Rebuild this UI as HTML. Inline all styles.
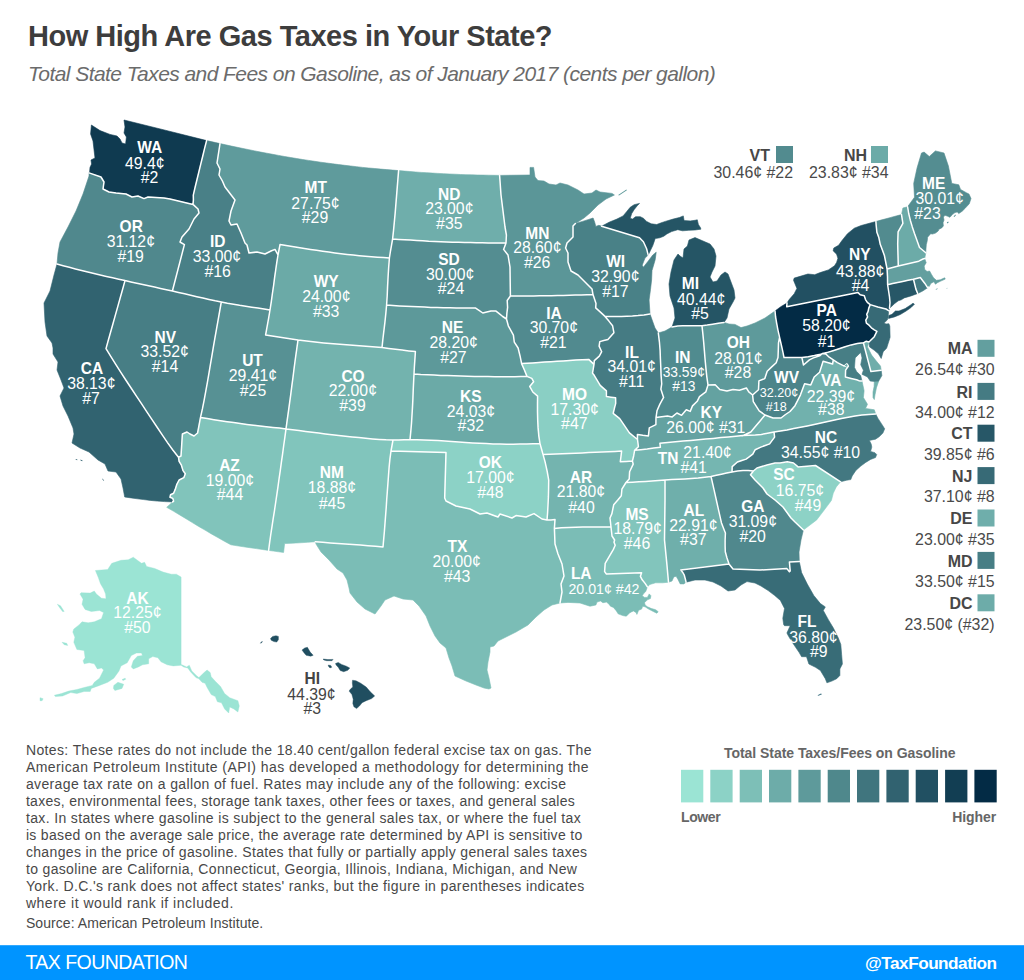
<!DOCTYPE html>
<html><head><meta charset="utf-8"><title>How High Are Gas Taxes in Your State?</title>
<style>
html,body{margin:0;padding:0;background:#fff;}
body{width:1024px;height:980px;position:relative;overflow:hidden;font-family:"Liberation Sans",sans-serif;}
svg{position:absolute;left:0;top:0;}
svg text{font-family:"Liberation Sans",sans-serif;}
#map path{stroke-linejoin:round;}
</style></head><body>
<svg width="1024" height="980" viewBox="0 0 1024 980">
<g id="map">
<path d="M89.0,172.9L89.6,172.0L90.0,167.4L91.6,164.0L91.0,160.0L95.0,158.0L94.4,153.0L93.0,141.0L90.6,134.0L91.4,125.0L100.0,130.6L110.0,134.4L117.0,136.0L120.0,139.0L122.0,143.0L125.6,144.0L126.4,137.0L124.0,133.0L125.0,127.0L124.0,120.0L165.2,130.2L206.6,140.6L204.6,148.4L202.7,156.2L200.8,163.9L198.9,171.7L197.0,179.5L195.1,187.3L193.3,195.1L193.4,200.0L193.0,204.4L170.0,199.0L164.0,198.0L148.0,197.0L144.0,198.6L138.0,196.0L132.0,197.0L126.0,194.0L116.0,193.0L109.0,192.0L103.0,189.0L104.0,182.0L101.0,177.0Z" fill="#0f3a50" stroke="#0f3a50" stroke-width="0.6"/>
<path d="M89.0,172.9L101.0,177.0L104.0,182.0L103.0,189.0L109.0,192.0L116.0,193.0L126.0,194.0L132.0,197.0L138.0,196.0L144.0,198.6L148.0,197.0L164.0,198.0L170.0,199.0L193.0,204.4L198.0,209.0L199.0,213.0L194.0,219.0L189.0,229.0L182.0,237.0L180.0,242.0L184.4,244.6L172.4,291.0L166.4,289.7L160.5,288.4L154.5,287.1L148.6,285.8L142.7,284.5L136.8,283.2L130.9,281.9L125.0,280.6L118.8,279.2L112.6,277.8L106.4,276.4L100.2,275.0L94.0,273.5L87.8,272.0L81.6,270.5L75.4,268.9L69.3,267.3L63.1,265.7L57.0,264.0L58.0,253.0L60.0,242.0L68.0,227.0L76.0,211.0L83.0,194.0L89.0,176.0Z" fill="#50888d" stroke="#50888d" stroke-width="0.6"/>
<path d="M57.0,264.0L63.1,265.7L69.3,267.3L75.4,268.9L81.6,270.5L87.8,272.0L94.0,273.5L100.2,275.0L106.4,276.4L112.6,277.8L118.8,279.2L125.0,280.6L122.7,289.0L120.3,297.5L117.9,306.1L115.5,314.6L113.1,323.2L110.7,331.7L108.3,340.2L106.0,348.6L110.9,356.6L115.9,364.6L121.0,372.6L126.1,380.5L131.4,388.5L136.6,396.4L141.8,404.2L147.0,412.1L152.2,419.8L157.3,427.5L162.4,435.1L167.5,442.6L172.8,450.0L178.5,457.2L179.1,461.3L181.4,465.2L183.0,470.6L185.3,473.8L183.8,477.7L179.1,480.0L176.7,484.7L175.2,489.4L173.6,493.3L170.5,494.8L170.0,497.2L172.8,498.4L173.6,501.1L172.7,501.9L164.7,501.6L157.3,501.1L150.4,500.4L143.8,499.6L137.4,498.8L131.1,497.9L124.7,497.0L123.0,488.0L121.0,479.0L116.0,472.0L108.0,471.0L105.0,464.0L98.0,460.0L89.0,452.0L80.0,448.0L72.0,443.0L74.0,434.0L73.0,428.0L68.0,416.0L63.0,406.0L60.0,396.0L64.0,388.0L61.0,380.0L57.0,370.0L58.0,362.0L53.0,354.0L53.0,348.0L52.0,343.0L47.0,336.0L45.0,322.0L44.0,303.0L50.0,291.0L54.0,275.0Z" fill="#316370" stroke="#316370" stroke-width="0.6"/>
<path d="M125.0,280.6L130.9,281.9L136.8,283.2L142.7,284.5L148.6,285.8L154.5,287.1L160.5,288.4L166.4,289.7L172.4,291.0L178.5,292.4L184.6,293.8L190.7,295.3L196.8,296.7L202.9,298.1L209.0,299.4L215.2,300.8L221.3,302.0L219.7,311.0L218.1,320.1L216.5,329.2L214.9,338.2L213.3,347.3L211.8,356.3L210.3,365.2L208.8,374.1L207.3,382.9L205.7,391.7L204.1,400.4L202.4,408.9L200.5,417.4L197.6,433.0L194.0,436.0L190.0,434.0L187.0,432.0L182.4,434.0L181.0,456.0L178.5,457.2L172.8,450.0L167.5,442.6L162.4,435.1L157.3,427.5L152.2,419.8L147.0,412.1L141.8,404.2L136.6,396.4L131.4,388.5L126.1,380.5L121.0,372.6L115.9,364.6L110.9,356.6L106.0,348.6L108.3,340.2L110.7,331.7L113.1,323.2L115.5,314.6L117.9,306.1L120.3,297.5L122.7,289.0Z" fill="#477e85" stroke="#477e85" stroke-width="0.6"/>
<path d="M193.0,204.4L193.4,200.0L193.3,195.1L195.1,187.3L197.0,179.5L198.9,171.7L200.8,163.9L202.7,156.2L204.6,148.4L206.6,140.6L211.1,141.6L215.5,142.6L220.0,143.6L217.0,163.0L220.0,169.0L219.0,175.0L222.4,181.0L225.0,187.0L235.0,200.0L231.0,211.0L229.0,221.0L231.0,225.0L237.0,224.0L241.0,233.0L245.0,243.0L247.0,245.0L249.0,253.0L257.0,252.0L265.0,254.0L271.0,251.0L275.0,249.4L278.0,255.0L276.8,262.4L275.7,270.0L274.6,277.7L273.6,285.5L272.4,293.5L271.3,301.6L270.0,310.0L264.0,309.0L257.9,308.1L251.8,307.2L245.7,306.2L239.6,305.3L233.5,304.2L227.4,303.2L221.3,302.0L215.2,300.8L209.0,299.4L202.9,298.1L196.8,296.7L190.7,295.3L184.6,293.8L178.5,292.4L172.4,291.0L184.4,244.6L180.0,242.0L182.0,237.0L189.0,229.0L194.0,219.0L199.0,213.0L198.0,209.0Z" fill="#498087" stroke="#498087" stroke-width="0.6"/>
<path d="M220.0,143.6L225.6,144.8L231.4,146.1L237.2,147.3L243.0,148.5L248.9,149.7L254.8,150.9L260.7,152.1L266.7,153.2L272.6,154.3L278.6,155.4L284.6,156.5L290.6,157.5L296.6,158.5L302.6,159.5L308.6,160.4L314.6,161.3L320.6,162.2L326.7,163.0L332.7,163.8L338.7,164.6L344.7,165.3L350.7,166.0L356.7,166.7L362.7,167.4L368.7,168.0L374.7,168.5L380.7,169.1L386.7,169.6L392.6,170.1L398.6,170.6L397.9,179.2L397.2,187.9L396.5,196.6L395.8,205.2L395.1,213.9L394.3,222.4L393.5,230.8L392.6,239.0L391.5,245.3L390.4,251.5L389.4,258.0L383.4,257.6L377.4,257.2L371.4,256.8L365.3,256.3L359.3,255.7L353.2,255.1L347.1,254.4L341.0,253.7L334.9,252.9L328.8,252.1L322.7,251.2L316.6,250.3L310.5,249.4L304.4,248.5L298.3,247.5L292.2,246.6L286.1,245.6L280.0,244.6L279.0,249.8L278.0,255.0L275.0,249.4L271.0,251.0L265.0,254.0L257.0,252.0L249.0,253.0L247.0,245.0L245.0,243.0L241.0,233.0L237.0,224.0L231.0,225.0L229.0,221.0L231.0,211.0L235.0,200.0L225.0,187.0L222.4,181.0L219.0,175.0L220.0,169.0L217.0,163.0Z" fill="#5f9b9c" stroke="#5f9b9c" stroke-width="0.6"/>
<path d="M278.0,255.0L279.0,249.8L280.0,244.6L286.1,245.6L292.2,246.6L298.3,247.5L304.4,248.5L310.5,249.4L316.6,250.3L322.7,251.2L328.8,252.1L334.9,252.9L341.0,253.7L347.1,254.4L353.2,255.1L359.3,255.7L365.3,256.3L371.4,256.8L377.4,257.2L383.4,257.6L389.4,258.0L388.7,267.0L388.1,276.5L387.6,286.1L387.2,295.7L386.6,305.0L385.8,313.8L384.9,322.3L383.9,330.6L382.9,339.0L382.0,347.6L375.6,347.0L369.1,346.6L362.6,346.1L356.1,345.6L349.6,345.1L343.1,344.6L336.6,344.1L330.1,343.5L323.7,342.9L317.2,342.2L310.8,341.5L304.4,340.8L298.0,340.0L291.5,339.1L285.0,338.1L278.5,337.1L272.1,336.1L265.6,335.0L267.1,326.7L268.6,318.3L270.0,310.0L271.3,301.6L272.4,293.5L273.6,285.5L274.6,277.7L275.7,270.0L276.8,262.4Z" fill="#6baaa7" stroke="#6baaa7" stroke-width="0.6"/>
<path d="M221.3,302.0L227.4,303.2L233.5,304.2L239.6,305.3L245.7,306.2L251.8,307.2L257.9,308.1L264.0,309.0L270.0,310.0L268.6,318.3L267.1,326.7L265.6,335.0L272.1,336.1L278.5,337.1L285.0,338.1L291.5,339.1L298.0,340.0L296.7,349.3L295.4,358.5L294.2,367.5L293.1,376.5L291.9,385.3L290.8,394.1L289.6,402.9L288.4,411.6L287.2,420.2L286.0,428.9L279.4,428.1L272.9,427.4L266.3,426.7L259.8,425.9L253.3,425.2L246.8,424.4L240.2,423.5L233.7,422.6L227.1,421.7L220.5,420.7L213.9,419.7L207.3,418.6L200.5,417.4L202.4,408.9L204.1,400.4L205.7,391.7L207.3,382.9L208.8,374.1L210.3,365.2L211.8,356.3L213.3,347.3L214.9,338.2L216.5,329.2L218.1,320.1L219.7,311.0Z" fill="#579194" stroke="#579194" stroke-width="0.6"/>
<path d="M298.0,340.0L304.4,340.8L310.8,341.5L317.2,342.2L323.7,342.9L330.1,343.5L336.6,344.1L343.1,344.6L349.6,345.1L356.1,345.6L362.6,346.1L369.1,346.6L375.6,347.0L382.0,347.6L388.7,348.4L395.4,349.3L402.1,350.1L408.8,350.9L415.4,351.6L414.9,359.1L414.4,366.5L414.0,374.0L413.6,382.3L413.2,390.5L412.9,398.7L412.5,406.9L412.0,415.0L411.5,423.2L410.8,431.4L410.0,439.6L404.3,439.7L398.7,439.9L393.0,440.0L386.1,439.8L379.2,439.4L372.4,438.9L365.6,438.3L358.8,437.6L352.1,436.9L345.4,436.2L338.7,435.5L332.0,434.7L325.3,433.9L318.7,433.1L312.1,432.2L305.6,431.4L299.0,430.6L292.5,429.7L286.0,428.9L287.2,420.2L288.4,411.6L289.6,402.9L290.8,394.1L291.9,385.3L293.1,376.5L294.2,367.5L295.4,358.5L296.7,349.3Z" fill="#73b3ae" stroke="#73b3ae" stroke-width="0.6"/>
<path d="M200.5,417.4L207.3,418.6L213.9,419.7L220.5,420.7L227.1,421.7L233.7,422.6L240.2,423.5L246.8,424.4L253.3,425.2L259.8,425.9L266.3,426.7L272.9,427.4L279.4,428.1L286.0,428.9L284.9,437.2L283.7,445.5L282.6,453.8L281.4,462.1L280.3,470.3L279.1,478.5L278.0,486.7L276.8,494.9L275.6,503.0L274.4,511.1L273.1,519.2L271.9,527.2L270.7,535.0L269.6,542.8L268.6,550.4L262.4,549.5L256.2,548.6L249.9,547.7L243.6,546.8L237.2,545.8L230.9,544.8L224.3,541.2L217.8,537.5L211.4,533.9L205.0,530.1L198.6,526.4L192.3,522.6L186.0,518.7L179.7,514.9L173.3,511.1L166.7,507.3L172.7,501.9L173.6,501.1L172.8,498.4L170.0,497.2L170.5,494.8L173.6,493.3L175.2,489.4L176.7,484.7L179.1,480.0L183.8,477.7L185.3,473.8L183.0,470.6L181.4,465.2L179.1,461.3L178.5,457.2L181.0,456.0L182.4,434.0L187.0,432.0L190.0,434.0L194.0,436.0L197.6,433.0Z" fill="#81c4bb" stroke="#81c4bb" stroke-width="0.6"/>
<path d="M286.0,428.9L292.5,429.7L299.0,430.6L305.6,431.4L312.1,432.2L318.7,433.1L325.3,433.9L332.0,434.7L338.7,435.5L345.4,436.2L352.1,436.9L358.8,437.6L365.6,438.3L372.4,438.9L379.2,439.4L386.1,439.8L393.0,440.0L392.0,445.5L391.0,451.0L389.9,459.2L389.1,467.4L388.5,475.5L387.9,483.7L387.3,491.7L386.7,499.7L386.2,507.7L385.6,515.5L385.0,523.4L384.4,531.2L383.7,539.1L383.0,547.0L375.5,546.3L367.9,545.7L360.4,545.1L352.8,544.6L345.3,544.0L337.8,543.5L330.3,542.9L322.8,542.3L315.3,541.7L307.5,542.3L299.8,542.8L292.1,543.2L284.6,543.6L284.1,548.0L283.6,552.4L278.6,551.8L273.6,551.1L268.6,550.4L269.6,542.8L270.7,535.0L271.9,527.2L273.1,519.2L274.4,511.1L275.6,503.0L276.8,494.9L278.0,486.7L279.1,478.5L280.3,470.3L281.4,462.1L282.6,453.8L283.7,445.5L284.9,437.2Z" fill="#81c5bc" stroke="#81c5bc" stroke-width="0.6"/>
<path d="M315.3,541.7L316.0,544.0L321.0,552.0L329.0,560.0L337.0,569.0L343.0,573.0L347.0,580.0L349.0,588.0L350.0,593.0L357.0,602.0L365.0,609.0L375.0,614.0L381.0,606.0L385.0,600.0L394.0,596.0L403.0,599.0L413.0,600.0L419.0,606.0L426.0,616.0L430.0,626.0L435.0,636.0L440.0,643.0L446.0,648.0L449.0,658.0L452.0,666.0L455.0,676.0L466.0,681.0L476.0,685.0L484.0,688.0L489.0,689.0L491.0,688.0L489.0,678.0L487.0,670.0L488.0,662.0L490.0,652.0L490.0,647.0L494.0,646.0L498.0,641.0L506.0,637.0L516.0,632.0L528.0,625.0L536.0,617.0L544.0,610.0L552.0,605.0L560.0,603.0L562.0,592.0L561.0,584.0L564.0,576.0L562.0,564.0L558.0,554.0L555.0,544.0L554.4,528.4L554.7,524.0L555.0,519.6L551.0,519.9L547.0,520.0L542.0,519.0L534.0,513.6L526.0,517.0L516.0,515.6L512.0,518.0L500.0,514.0L498.0,517.0L487.0,513.0L480.0,514.0L470.0,509.0L456.0,506.0L446.0,501.0L444.7,498.0L446.0,452.4L391.0,451.0L389.9,459.2L389.1,467.4L388.5,475.5L387.9,483.7L387.3,491.7L386.7,499.7L386.2,507.7L385.6,515.5L385.0,523.4L384.4,531.2L383.7,539.1L383.0,547.0L375.5,546.3L367.9,545.7L360.4,545.1L352.8,544.6L345.3,544.0L337.8,543.5L330.3,542.9L322.8,542.3Z" fill="#7bbdb6" stroke="#7bbdb6" stroke-width="0.6"/>
<path d="M393.0,440.0L398.7,439.9L404.3,439.7L410.0,439.6L417.0,439.7L423.9,439.9L430.9,440.2L437.9,440.6L444.8,441.0L451.8,441.4L458.7,441.9L465.6,442.4L472.5,442.9L479.4,443.3L486.2,443.6L493.0,443.9L499.8,444.1L506.6,444.2L513.3,444.2L520.0,444.1L526.7,444.0L533.4,443.8L540.0,443.6L541.5,449.0L543.0,454.4L545.3,462.8L547.2,471.5L548.7,480.2L548.6,488.6L548.4,496.9L548.0,505.0L547.6,512.8L547.0,520.0L542.0,519.0L534.0,513.6L526.0,517.0L516.0,515.6L512.0,518.0L500.0,514.0L498.0,517.0L487.0,513.0L480.0,514.0L470.0,509.0L456.0,506.0L446.0,501.0L444.7,498.0L446.0,452.4L391.0,451.0L392.0,445.5Z" fill="#8cd2c6" stroke="#8cd2c6" stroke-width="0.6"/>
<path d="M414.0,374.0L420.7,374.5L427.4,374.8L434.1,375.1L440.8,375.4L447.5,375.6L454.2,375.8L460.9,376.0L467.6,376.2L474.4,376.4L481.1,376.5L487.9,376.6L494.7,376.8L501.5,376.8L508.2,376.8L514.7,376.8L520.9,376.6L527.0,376.4L531.8,378.4L533.6,381.7L529.7,386.4L532.8,392.0L537.6,396.1L537.5,404.1L537.5,412.0L537.7,420.0L538.1,427.9L538.8,435.8L540.0,443.6L533.4,443.8L526.7,444.0L520.0,444.1L513.3,444.2L506.6,444.2L499.8,444.1L493.0,443.9L486.2,443.6L479.4,443.3L472.5,442.9L465.6,442.4L458.7,441.9L451.8,441.4L444.8,441.0L437.9,440.6L430.9,440.2L423.9,439.9L417.0,439.7L410.0,439.6L410.8,431.4L411.5,423.2L412.0,415.0L412.5,406.9L412.9,398.7L413.2,390.5L413.6,382.3Z" fill="#6baaa7" stroke="#6baaa7" stroke-width="0.6"/>
<path d="M386.6,305.0L393.0,305.5L399.3,305.9L405.6,306.2L411.9,306.5L418.2,306.8L424.5,307.1L430.9,307.4L437.2,307.6L443.5,307.7L449.9,307.8L456.2,307.9L462.5,307.9L468.9,307.9L475.3,307.9L479.0,310.4L482.8,313.0L486.8,312.0L490.9,311.0L495.7,310.9L499.2,313.7L502.7,316.5L506.5,319.0L508.3,325.8L510.8,330.4L513.4,335.1L514.3,342.2L518.1,348.0L520.1,356.2L521.6,363.6L524.3,369.8L527.0,376.4L520.9,376.6L514.7,376.8L508.2,376.8L501.5,376.8L494.7,376.8L487.9,376.6L481.1,376.5L474.4,376.4L467.6,376.2L460.9,376.0L454.2,375.8L447.5,375.6L440.8,375.4L434.1,375.1L427.4,374.8L420.7,374.5L414.0,374.0L414.4,366.5L414.9,359.1L415.4,351.6L408.8,350.9L402.1,350.1L395.4,349.3L388.7,348.4L382.0,347.6L382.9,339.0L383.9,330.6L384.9,322.3L385.8,313.8Z" fill="#5d999a" stroke="#5d999a" stroke-width="0.6"/>
<path d="M392.6,239.0L398.6,239.4L404.6,239.8L410.7,240.1L416.7,240.5L422.7,240.8L428.7,241.2L434.7,241.4L440.7,241.7L446.7,242.0L452.6,242.2L458.6,242.3L464.6,242.5L470.5,242.6L476.4,242.8L482.3,242.8L488.2,242.9L494.1,243.0L500.0,243.0L506.0,243.0L503.6,249.4L508.0,255.0L510.0,267.0L510.4,296.0L507.2,300.5L507.6,307.3L506.9,313.1L506.5,319.0L502.7,316.5L499.2,313.7L495.7,310.9L490.9,311.0L486.8,312.0L482.8,313.0L479.0,310.4L475.3,307.9L468.9,307.9L462.5,307.9L456.2,307.9L449.9,307.8L443.5,307.7L437.2,307.6L430.9,307.4L424.5,307.1L418.2,306.8L411.9,306.5L405.6,306.2L399.3,305.9L393.0,305.5L386.6,305.0L387.2,295.7L387.6,286.1L388.1,276.5L388.7,267.0L389.4,258.0L390.4,251.5L391.5,245.3Z" fill="#548d91" stroke="#548d91" stroke-width="0.6"/>
<path d="M398.6,170.6L404.3,171.1L409.9,171.5L415.5,172.0L421.2,172.4L426.8,172.7L432.4,173.1L438.0,173.4L443.6,173.7L449.2,174.0L454.8,174.2L460.4,174.5L466.0,174.7L471.6,174.8L477.2,175.0L482.8,175.1L488.4,175.2L494.0,175.3L499.6,175.4L501.0,195.0L503.0,211.0L505.0,227.0L506.4,235.0L506.0,243.0L500.0,243.0L494.1,243.0L488.2,242.9L482.3,242.8L476.4,242.8L470.5,242.6L464.6,242.5L458.6,242.3L452.6,242.2L446.7,242.0L440.7,241.7L434.7,241.4L428.7,241.2L422.7,240.8L416.7,240.5L410.7,240.1L404.6,239.8L398.6,239.4L392.6,239.0L393.5,230.8L394.3,222.4L395.1,213.9L395.8,205.2L396.5,196.6L397.2,187.9L397.9,179.2Z" fill="#6faeab" stroke="#6faeab" stroke-width="0.6"/>
<path d="M499.6,175.4L530.0,175.0L530.0,167.4L533.6,167.4L535.0,177.0L538.0,180.6L544.0,181.0L549.0,184.0L556.0,185.0L560.0,183.0L568.0,185.0L578.0,190.0L584.0,194.0L592.0,193.0L596.0,190.0L600.0,192.0L612.0,193.4L614.4,195.0L606.0,199.0L598.0,205.0L590.0,213.0L584.0,218.0L575.4,223.5L573.0,226.0L573.0,237.0L567.0,243.0L565.6,248.0L568.0,253.0L568.0,262.0L571.0,271.0L578.0,275.0L586.0,283.0L592.0,289.0L593.0,294.6L587.1,294.8L581.2,295.0L575.2,295.1L569.3,295.3L563.3,295.4L557.4,295.5L551.4,295.7L545.5,295.7L539.6,295.8L533.7,295.9L527.8,295.9L522.0,295.9L516.2,296.0L510.4,296.0L510.0,267.0L508.0,255.0L503.6,249.4L506.0,243.0L506.4,235.0L505.0,227.0L503.0,211.0L501.0,195.0Z" fill="#5b9698" stroke="#5b9698" stroke-width="0.6"/>
<path d="M510.4,296.0L516.2,296.0L522.0,295.9L527.8,295.9L533.7,295.9L539.6,295.8L545.5,295.7L551.4,295.7L557.4,295.5L563.3,295.4L569.3,295.3L575.2,295.1L581.2,295.0L587.1,294.8L593.0,294.6L596.0,303.4L595.7,307.9L600.4,312.1L605.0,316.4L608.9,321.1L612.6,325.8L613.9,332.7L607.9,339.5L603.8,340.5L599.8,341.6L599.1,346.1L601.7,351.7L599.3,356.1L594.3,360.6L594.0,364.4L588.7,359.4L582.3,359.7L575.9,360.0L569.6,360.4L563.3,360.9L557.0,361.3L550.8,361.7L544.7,362.1L538.7,362.5L532.9,362.9L527.3,363.3L521.6,363.6L520.1,356.2L518.1,348.0L514.3,342.2L513.4,335.1L510.8,330.4L508.3,325.8L506.5,319.0L506.9,313.1L507.6,307.3L507.2,300.5Z" fill="#518a8f" stroke="#518a8f" stroke-width="0.6"/>
<path d="M521.6,363.6L527.3,363.3L532.9,362.9L538.7,362.5L544.7,362.1L550.8,361.7L557.0,361.3L563.3,360.9L569.6,360.4L575.9,360.0L582.3,359.7L588.7,359.4L594.0,364.4L592.5,373.1L594.2,375.3L597.2,380.4L600.2,385.4L606.4,390.9L606.4,396.6L611.0,397.2L615.6,397.7L615.7,403.4L614.4,408.3L613.2,413.3L619.7,418.6L624.5,425.7L629.4,432.9L637.5,439.5L638.4,446.7L634.6,450.3L633.7,455.7L632.4,461.0L626.3,461.4L620.3,461.7L621.0,456.4L621.6,451.1L615.1,451.4L608.5,451.7L601.9,451.9L595.3,452.2L588.7,452.5L582.1,452.9L575.5,453.2L568.9,453.5L562.3,453.8L555.8,454.0L549.4,454.2L543.0,454.4L541.5,449.0L540.0,443.6L538.8,435.8L538.1,427.9L537.7,420.0L537.5,412.0L537.5,404.1L537.6,396.1L532.8,392.0L529.7,386.4L533.6,381.7L531.8,378.4L527.0,376.4L524.3,369.8Z" fill="#8acfc4" stroke="#8acfc4" stroke-width="0.6"/>
<path d="M543.0,454.4L549.4,454.2L555.8,454.0L562.3,453.8L568.9,453.5L575.5,453.2L582.1,452.9L588.7,452.5L595.3,452.2L601.9,451.9L608.5,451.7L615.1,451.4L621.6,451.1L621.0,456.4L620.3,461.7L626.3,461.4L632.4,461.0L633.2,464.1L629.6,471.7L629.2,479.1L626.0,482.5L621.9,489.2L621.3,495.7L617.6,500.3L613.7,504.8L611.9,513.6L610.0,518.0L611.0,527.0L604.0,527.0L597.0,527.0L589.9,527.0L582.8,527.1L575.7,527.2L568.5,527.4L561.4,527.7L554.4,528.4L554.7,524.0L555.0,519.6L551.0,519.9L547.0,520.0L547.6,512.8L548.0,505.0L548.4,496.9L548.6,488.6L548.7,480.2L547.2,471.5L545.3,462.8Z" fill="#74b4af" stroke="#74b4af" stroke-width="0.6"/>
<path d="M554.4,528.4L561.4,527.7L568.5,527.4L575.7,527.2L582.8,527.1L589.9,527.0L597.0,527.0L604.0,527.0L611.0,527.0L612.0,536.0L614.6,540.0L614.0,542.3L615.2,545.3L613.4,549.4L609.3,556.4L605.2,563.4L604.6,571.6L606.4,574.0L641.6,572.8L640.4,576.3L642.2,579.8L645.1,583.4L647.4,586.9L645.7,591.6L643.9,593.3L642.2,595.7L644.5,597.4L647.4,597.4L649.2,593.9L650.9,595.7L650.4,598.6L647.4,599.8L644.5,602.7L645.1,605.0L647.4,606.8L651.5,608.6L655.6,609.7L658.2,611.7L656.8,613.2L653.3,611.5L648.6,609.1L645.1,606.8L642.7,606.2L641.6,609.1L638.6,610.3L636.9,614.4L636.3,612.7L633.4,610.9L629.8,612.7L626.3,616.2L622.8,615.6L618.1,613.8L616.4,610.9L613.4,607.4L610.5,606.2L608.8,603.9L606.4,602.1L602.9,602.7L600.5,600.9L597.0,602.1L595.9,605.0L590.0,606.2L580.0,603.0L568.0,602.4L560.0,603.0L562.0,592.0L561.0,584.0L564.0,576.0L562.0,564.0L558.0,554.0L555.0,544.0Z" fill="#7bbdb6" stroke="#7bbdb6" stroke-width="0.6"/>
<path d="M626.0,482.5L632.5,482.2L639.0,481.8L645.5,481.4L652.0,481.0L658.5,480.5L665.0,480.0L665.0,500.0L664.5,540.0L666.8,563.4L668.5,582.2L662.7,582.8L655.6,582.8L649.8,584.5L647.4,586.9L645.1,583.4L642.2,579.8L640.4,576.3L641.6,572.8L606.4,574.0L604.6,571.6L605.2,563.4L609.3,556.4L613.4,549.4L615.2,545.3L614.0,542.3L614.6,540.0L612.0,536.0L611.0,527.0L610.0,518.0L611.9,513.6L613.7,504.8L617.6,500.3L621.3,495.7L621.9,489.2Z" fill="#82c5bc" stroke="#82c5bc" stroke-width="0.6"/>
<path d="M665.0,480.0L671.7,479.6L678.4,479.3L685.0,478.9L691.6,478.4L698.2,477.9L704.7,477.2L711.0,476.4L712.7,483.9L714.4,491.4L716.1,499.0L717.8,506.7L719.6,514.7L721.4,522.7L723.4,527.9L725.4,533.1L725.1,540.2L725.1,546.0L725.3,551.7L727.0,558.0L729.0,564.0L680.8,569.9L682.6,572.2L684.3,575.2L685.5,579.8L686.1,582.2L683.8,583.9L680.2,583.9L677.9,579.3L676.1,576.3L673.8,576.9L672.0,581.0L668.5,582.2L666.8,563.4L664.5,540.0L665.0,500.0Z" fill="#6fafab" stroke="#6fafab" stroke-width="0.6"/>
<path d="M729.0,564.0L733.0,569.0L760.0,570.0L786.9,568.6L789.4,571.8L790.2,571.0L789.4,562.0L799.3,561.6L801.6,572.6L807.3,584.1L813.8,595.5L820.4,603.6L825.3,606.9L823.3,610.5L828.5,619.9L833.4,628.1L838.3,637.9L840.8,644.4L841.6,654.2L842.4,664.0L839.9,668.9L839.9,675.4L836.7,678.7L831.8,681.1L826.9,682.8L825.3,678.7L820.4,670.5L815.5,667.3L808.9,664.0L806.5,656.7L801.6,656.7L799.2,652.6L792.6,642.8L788.6,636.3L786.9,633.0L790.2,625.7L784.5,625.7L783.7,624.8L782.8,618.3L784.5,608.5L780.4,600.4L774.7,595.5L768.2,590.6L761.0,586.0L755.0,583.0L747.0,581.6L741.0,585.0L735.0,590.0L728.0,591.0L721.0,586.0L713.0,582.0L705.0,580.0L695.0,580.0L686.1,582.2L685.5,579.8L684.3,575.2L682.6,572.2L680.8,569.9Z" fill="#386c77" stroke="#386c77" stroke-width="0.6"/>
<path d="M711.0,476.4L716.3,475.3L721.4,474.2L726.6,473.1L732.0,472.0L737.5,471.1L743.0,470.6L748.3,470.5L753.4,471.0L750.5,474.8L755.0,480.0L763.0,488.0L767.0,494.0L775.0,500.0L783.0,507.0L791.0,518.0L795.0,522.0L803.4,530.0L801.0,540.0L799.0,552.0L799.3,561.6L789.4,562.0L790.2,571.0L789.4,571.8L786.9,568.6L760.0,570.0L733.0,569.0L729.0,564.0L727.0,558.0L725.3,551.7L725.1,546.0L725.1,540.2L725.4,533.1L723.4,527.9L721.4,522.7L719.6,514.7L717.8,506.7L716.1,499.0L714.4,491.4L712.7,483.9Z" fill="#50888d" stroke="#50888d" stroke-width="0.6"/>
<path d="M753.4,471.0L757.0,468.0L767.0,465.0L775.0,463.0L780.0,463.0L787.3,461.8L793.5,463.0L798.4,467.1L815.5,465.5L840.6,481.8L836.3,486.9L833.3,493.1L831.4,500.4L827.8,505.3L824.1,510.2L820.4,515.1L816.7,519.9L810.0,525.0L803.4,530.0L795.0,522.0L791.0,518.0L783.0,507.0L775.0,500.0L767.0,494.0L763.0,488.0L755.0,480.0L750.5,474.8Z" fill="#8dd2c6" stroke="#8dd2c6" stroke-width="0.6"/>
<path d="M732.0,472.0L732.2,466.6L737.4,462.0L741.8,460.5L746.1,459.1L749.5,456.7L752.8,454.1L755.2,449.7L760.8,447.1L765.2,445.5L769.6,443.9L774.6,437.1L774.0,432.0L780.4,431.0L787.0,429.9L793.7,428.6L800.5,427.3L807.3,425.9L814.2,424.4L821.0,422.9L827.8,421.4L834.6,419.9L841.4,418.5L848.2,417.2L855.0,416.0L861.9,415.1L868.8,414.5L875.7,413.9L878.0,418.4L881.6,423.9L884.7,428.8L882.9,433.1L879.2,436.7L875.5,439.2L869.4,440.4L871.2,444.1L871.8,447.1L870.6,451.4L874.9,452.7L876.7,454.5L875.5,457.6L870.6,459.4L865.7,462.4L860.8,466.1L855.9,470.4L852.2,475.9L850.8,479.6L846.7,480.2L840.6,481.8L815.5,465.5L798.4,467.1L793.5,463.0L787.3,461.8L780.0,463.0L775.0,463.0L767.0,465.0L757.0,468.0L753.4,471.0L748.3,470.5L743.0,470.6L737.5,471.1Z" fill="#437881" stroke="#437881" stroke-width="0.6"/>
<path d="M634.6,450.3L640.8,449.7L647.2,449.0L653.8,448.1L660.4,447.3L659.9,443.2L667.7,442.4L675.4,441.7L683.1,441.1L690.7,440.4L698.3,439.8L705.8,439.1L713.3,438.4L720.9,437.6L728.4,436.9L735.9,436.2L743.0,435.6L749.3,435.3L755.3,435.0L761.3,434.4L767.5,433.3L774.0,432.0L774.6,437.1L769.6,443.9L765.2,445.5L760.8,447.1L755.2,449.7L752.8,454.1L749.5,456.7L746.1,459.1L741.8,460.5L737.4,462.0L732.2,466.6L732.0,472.0L726.6,473.1L721.4,474.2L716.3,475.3L711.0,476.4L704.7,477.2L698.2,477.9L691.6,478.4L685.0,478.9L678.4,479.3L671.7,479.6L665.0,480.0L658.5,480.5L652.0,481.0L645.5,481.4L639.0,481.8L632.5,482.2L626.0,482.5L629.2,479.1L629.6,471.7L633.2,464.1L632.4,461.0L633.7,455.7Z" fill="#75b6b1" stroke="#75b6b1" stroke-width="0.6"/>
<path d="M637.5,439.5L637.4,434.4L642.8,435.2L648.4,435.9L649.3,427.9L655.9,424.6L656.0,417.6L667.5,416.1L672.2,416.9L676.9,413.0L681.6,415.3L686.3,409.8L690.2,411.4L692.5,405.9L697.2,401.3L699.5,396.6L705.8,391.9L708.0,385.0L715.2,384.8L719.8,389.5L726.9,391.1L733.1,389.5L739.4,390.3L746.4,388.0L748.8,391.9L752.6,395.0L753.3,401.6L759.2,410.8L765.0,415.0L760.5,420.4L756.2,425.6L753.5,428.8L750.8,432.0L747.0,433.8L743.0,435.6L735.9,436.2L728.4,436.9L720.9,437.6L713.3,438.4L705.8,439.1L698.3,439.8L690.7,440.4L683.1,441.1L675.4,441.7L667.7,442.4L659.9,443.2L660.4,447.3L653.8,448.1L647.2,449.0L640.8,449.7L634.6,450.3L638.4,446.7Z" fill="#64a2a1" stroke="#64a2a1" stroke-width="0.6"/>
<path d="M752.6,395.0L758.5,389.8L758.9,380.9L764.8,378.6L767.2,371.3L771.7,366.9L776.2,362.7L778.0,357.5L778.3,350.0L778.5,342.8L779.6,337.4L781.1,344.0L782.6,350.7L784.0,357.5L790.0,357.5L796.0,357.6L801.9,357.6L803.5,365.0L809.4,359.9L813.5,357.9L819.6,355.8L822.4,353.5L825.8,354.0L829.2,357.2L833.3,359.9L832.6,364.0L823.1,361.3L819.6,372.2L814.2,377.0L810.8,384.9L804.6,383.8L800.5,394.8L795.0,405.7L790.0,411.5L785.5,414.5L781.0,418.0L773.0,418.0L765.0,415.0L759.2,410.8L753.3,401.6Z" fill="#4c848a" stroke="#4c848a" stroke-width="0.6"/>
<path d="M743.0,435.6L747.0,433.8L750.8,432.0L753.5,428.8L756.2,425.6L760.5,420.4L765.0,415.0L773.0,418.0L781.0,418.0L785.5,414.5L790.0,411.5L795.0,405.7L800.5,394.8L804.6,383.8L810.8,384.9L814.2,377.0L819.6,372.2L823.1,361.3L832.6,364.0L833.3,359.9L837.4,362.6L844.3,366.1L847.0,364.0L848.4,366.1L845.6,370.2L845.4,377.0L851.1,378.4L856.6,379.7L860.0,381.1L862.0,381.1L864.1,390.7L863.4,397.5L867.5,404.3L865.5,408.4L874.3,409.8L875.7,413.9L868.8,414.5L861.9,415.1L855.0,416.0L848.2,417.2L841.4,418.5L834.6,419.9L827.8,421.4L821.0,422.9L814.2,424.4L807.3,425.9L800.5,427.3L793.7,428.6L787.0,429.9L780.4,431.0L774.0,432.0L767.5,433.3L761.3,434.4L755.3,435.0L749.3,435.3ZM874.3,381.4L878.7,381.1L876.4,387.9L875.0,394.8L874.3,399.6L873.0,397.5L873.0,392.0L874.1,386.6Z" fill="#71b1ad" stroke="#71b1ad" stroke-width="0.6"/>
<path d="M605.0,316.4L610.5,316.4L616.0,316.4L621.4,316.4L626.9,316.2L632.4,316.0L638.0,315.6L643.9,314.9L650.0,314.0L655.0,328.0L658.3,333.0L659.4,341.8L660.1,350.3L660.4,358.8L660.8,367.2L661.1,375.6L661.7,383.8L660.9,389.2L663.6,397.4L659.9,404.1L657.0,410.8L656.0,417.6L655.9,424.6L649.3,427.9L648.4,435.9L642.8,435.2L637.4,434.4L637.5,439.5L629.4,432.9L624.5,425.7L619.7,418.6L613.2,413.3L614.4,408.3L615.7,403.4L615.6,397.7L611.0,397.2L606.4,396.6L606.4,390.9L600.2,385.4L597.2,380.4L594.2,375.3L592.5,373.1L594.0,364.4L594.3,360.6L599.3,356.1L601.7,351.7L599.1,346.1L599.8,341.6L603.8,340.5L607.9,339.5L613.9,332.7L612.6,325.8L608.9,321.1Z" fill="#457b83" stroke="#457b83" stroke-width="0.6"/>
<path d="M658.3,333.0L665.0,331.0L672.0,327.0L677.6,326.1L682.7,325.8L687.5,325.7L692.3,325.8L697.1,325.8L702.0,325.8L702.9,334.1L703.7,342.5L704.4,350.9L705.1,359.5L705.9,368.1L706.8,376.6L708.0,385.0L705.8,391.9L699.5,396.6L697.2,401.3L692.5,405.9L690.2,411.4L686.3,409.8L681.6,415.3L676.9,413.0L672.2,416.9L667.5,416.1L656.0,417.6L657.0,410.8L659.9,404.1L663.6,397.4L660.9,389.2L661.7,383.8L661.1,375.6L660.8,367.2L660.4,358.8L660.1,350.3L659.4,341.8Z" fill="#508b8f" stroke="#508b8f" stroke-width="0.6"/>
<path d="M702.0,325.8L707.2,325.1L712.7,324.2L718.3,323.3L724.0,322.4L729.0,324.0L735.0,324.4L741.0,327.6L747.0,326.0L755.0,323.0L765.0,318.0L775.0,311.0L775.6,317.0L776.7,323.5L778.0,330.3L779.6,337.4L778.5,342.8L778.3,350.0L778.0,357.5L776.2,362.7L771.7,366.9L767.2,371.3L764.8,378.6L758.9,380.9L758.5,389.8L752.6,395.0L748.8,391.9L746.4,388.0L739.4,390.3L733.1,389.5L726.9,391.1L719.8,389.5L715.2,384.8L708.0,385.0L706.8,376.6L705.9,368.1L705.1,359.5L704.4,350.9L703.7,342.5L702.9,334.1Z" fill="#5e9a9b" stroke="#5e9a9b" stroke-width="0.6"/>
<path d="M575.4,223.5L582.5,221.4L588.8,219.4L593.1,218.0L594.7,222.2L595.8,226.4L598.9,225.3L601.6,226.2L639.5,237.8L643.4,241.7L646.6,248.8L648.2,255.1L645.0,258.1L642.2,265.2L643.4,267.2L648.1,261.2L652.8,255.0L656.2,252.2L655.2,259.7L652.0,270.6L651.6,280.0L650.5,289.4L649.1,300.0L650.0,314.0L643.9,314.9L638.0,315.6L632.4,316.0L626.9,316.2L621.4,316.4L616.0,316.4L610.5,316.4L605.0,316.4L600.4,312.1L595.7,307.9L596.0,303.4L593.0,294.6L592.0,289.0L586.0,283.0L578.0,275.0L571.0,271.0L568.0,262.0L568.0,253.0L565.6,248.0L567.0,243.0L573.0,237.0L573.0,226.0Z" fill="#498187" stroke="#498187" stroke-width="0.6"/>
<path d="M601.6,226.2L609.1,222.2L616.9,219.1L623.1,215.9L627.0,211.2L630.2,207.3L634.1,204.7L639.5,203.4L637.2,205.8L634.1,209.7L631.7,213.6L630.2,218.3L632.5,219.1L635.6,216.7L640.3,216.7L643.4,218.3L646.6,221.4L651.2,223.8L656.7,224.5L660.6,223.0L665.3,221.4L673.1,219.1L679.4,217.5L683.3,215.9L684.1,220.6L690.3,220.9L695.0,220.3L697.3,219.8L698.4,224.5L700.5,227.7L700.9,229.2L695.0,230.0L688.8,230.3L682.5,230.8L677.8,229.7L671.6,231.6L666.9,233.9L663.8,236.2L659.8,237.8L655.2,238.6L654.4,240.9L652.8,245.6L650.5,250.3L648.2,255.1L646.6,248.8L643.4,241.7L639.5,237.8ZM672.0,327.0L675.0,318.0L674.0,308.0L670.0,296.0L669.0,284.0L671.0,272.0L674.0,260.0L678.0,254.0L680.0,256.0L683.0,258.0L684.0,249.0L687.4,246.0L689.0,240.0L695.0,237.6L703.0,241.0L710.0,244.0L714.0,249.0L716.0,256.0L715.0,266.0L712.0,272.0L710.0,277.0L713.0,282.0L717.0,281.0L721.0,275.0L725.0,272.0L728.0,274.0L731.0,282.0L734.0,290.0L735.0,298.0L733.0,302.0L729.0,309.0L727.0,318.0L724.0,322.4L718.3,323.3L712.7,324.2L707.2,325.1L702.0,325.8L697.1,325.8L692.3,325.8L687.5,325.7L682.7,325.8L677.6,326.1Z" fill="#255565" stroke="#255565" stroke-width="0.6"/>
<path d="M775.0,311.0L780.8,306.7L787.0,303.0L786.7,306.8L858.0,292.6L860.2,294.7L864.3,295.8L865.5,299.6L867.3,302.3L870.2,304.6L868.7,308.4L868.1,311.4L866.7,314.3L867.6,316.9L865.8,320.1L866.4,323.1L869.3,325.4L871.4,327.8L874.3,329.8L876.9,331.3L874.3,336.7L870.2,340.8L868.9,342.0L866.0,341.3L863.4,342.8L857.3,343.4L851.2,344.9L845.1,346.7L839.1,348.7L833.0,350.7L826.8,352.6L820.6,354.2L814.4,355.6L808.2,356.8L801.9,357.6L796.0,357.6L790.0,357.5L784.0,357.5L782.6,350.7L781.1,344.0L779.6,337.4L778.0,330.3L776.7,323.5L775.6,317.0Z" fill="#032b45" stroke="#032b45" stroke-width="0.6"/>
<path d="M787.0,303.0L789.4,299.3L794.2,293.8L796.9,288.4L793.5,280.2L794.2,278.1L801.0,276.1L807.9,274.0L814.7,274.7L820.2,272.6L828.4,269.9L834.5,265.8L836.6,262.4L837.9,258.3L836.6,254.2L833.1,250.8L833.8,248.0L838.6,245.3L842.0,240.5L847.5,233.7L854.3,228.2L861.2,225.5L875.9,221.5L876.2,225.5L876.9,232.3L878.9,237.8L880.3,244.6L882.4,250.1L884.4,255.5L887.1,269.0L887.5,276.7L887.6,284.7L888.6,291.0L889.5,296.9L890.0,302.7L889.5,308.3L889.2,309.6L888.6,310.6L886.0,309.0L877.8,307.0L870.2,304.6L867.3,302.3L865.5,299.6L864.3,295.8L860.2,294.7L858.0,292.6L786.7,306.8ZM888.8,315.5L892.0,314.3L895.4,311.0L899.0,311.0L905.2,308.6L911.0,304.7L913.0,303.2L914.4,304.2L911.0,307.6L906.1,311.0L900.3,314.5L894.4,316.9L888.6,318.4Z" fill="#225062" stroke="#225062" stroke-width="0.6"/>
<path d="M870.2,304.6L877.8,307.0L886.0,309.0L888.6,310.6L888.4,314.3L888.1,317.8L887.2,320.1L884.0,323.1L886.0,324.0L888.9,323.7L889.8,326.0L890.1,337.3L886.6,348.3L883.2,351.7L881.2,358.5L878.4,353.8L874.3,350.3L869.6,346.9L868.9,342.0L870.2,340.8L874.3,336.7L876.9,331.3L874.3,329.8L871.4,327.8L869.3,325.4L866.4,323.1L865.8,320.1L867.6,316.9L866.7,314.3L868.1,311.4L868.7,308.4Z" fill="#376a76" stroke="#376a76" stroke-width="0.6"/>
<path d="M863.4,342.8L866.0,341.3L868.9,342.0L867.5,346.9L871.6,355.1L877.1,362.0L880.5,366.1L881.2,370.3L870.9,371.5Z" fill="#6faeab" stroke="#6faeab" stroke-width="0.6"/>
<path d="M801.9,357.6L808.2,356.8L814.4,355.6L820.6,354.2L826.8,352.6L833.0,350.7L839.1,348.7L845.1,346.7L851.2,344.9L857.3,343.4L863.4,342.8L870.9,371.5L881.2,370.3L881.9,375.6L878.7,381.1L874.3,381.4L870.2,381.1L867.5,377.0L862.0,374.3L863.4,370.2L860.7,364.7L862.0,357.9L860.7,352.4L855.2,357.9L854.5,367.4L856.6,371.5L860.7,375.6L862.0,381.1L860.0,381.1L856.6,379.7L851.1,378.4L845.4,377.0L845.6,370.2L848.4,366.1L847.0,364.0L844.3,366.1L837.4,362.6L833.3,359.9L829.2,357.2L825.8,354.0L822.4,353.5L819.6,355.8L813.5,357.9L809.4,359.9L803.5,365.0Z" fill="#477e85" stroke="#477e85" stroke-width="0.6"/>
<path d="M887.6,284.7L892.6,283.6L897.6,282.5L902.7,281.4L908.0,280.3L913.5,279.3L915.9,289.1L917.7,293.5L911.0,295.9L904.2,297.9L901.3,299.8L898.3,300.8L894.4,303.7L891.0,307.1L889.5,308.3L890.0,302.7L889.5,296.9L888.6,291.0Z" fill="#275767" stroke="#275767" stroke-width="0.6"/>
<path d="M913.5,279.3L920.3,277.5L924.7,283.2L927.6,287.6L928.6,287.1L922.7,291.0L917.7,293.5L915.9,289.1Z" fill="#457b83" stroke="#457b83" stroke-width="0.6"/>
<path d="M887.1,269.0L890.8,268.0L894.5,267.0L898.3,266.1L918.8,261.2L923.0,259.0L924.7,258.6L926.2,262.7L924.2,266.1L924.7,269.5L927.1,271.5L929.6,271.0L931.5,274.4L933.5,277.8L936.4,280.3L940.3,279.8L944.7,277.8L945.2,279.1L940.3,281.3L937.4,282.7L935.4,284.2L934.0,281.7L931.0,283.2L929.1,286.6L928.6,287.1L927.6,287.6L924.7,283.2L920.3,277.5L913.5,279.3L908.0,280.3L902.7,281.4L897.6,282.5L892.6,283.6L887.6,284.7L887.5,276.7Z" fill="#639f9f" stroke="#639f9f" stroke-width="0.6"/>
<path d="M875.9,221.5L880.9,220.1L885.9,218.8L890.9,217.4L896.1,216.0L901.5,214.6L902.9,223.3L898.1,231.9L897.7,244.1L898.3,266.1L894.5,267.0L890.8,268.0L887.1,269.0L884.4,255.5L882.4,250.1L880.3,244.6L878.9,237.8L876.9,232.3L876.2,225.5Z" fill="#528b8f" stroke="#528b8f" stroke-width="0.6"/>
<path d="M901.5,214.6L902.9,208.0L907.6,206.8L908.7,213.5L910.3,220.2L912.3,226.9L914.5,233.6L917.0,240.5L919.5,247.5L925.8,252.8L924.7,258.6L923.0,259.0L918.8,261.2L898.3,266.1L897.7,244.1L898.1,231.9L902.9,223.3Z" fill="#6caba8" stroke="#6caba8" stroke-width="0.6"/>
<path d="M907.6,206.8L914.5,197.2L913.7,183.4L917.1,167.8L921.5,153.0L924.1,152.1L929.3,156.5L935.4,150.9L944.0,153.0L948.4,166.0L951.8,183.4L958.8,184.8L960.5,189.4L966.3,192.7L969.0,194.1L971.0,198.5L969.3,203.7L965.6,207.8L962.2,211.2L958.7,213.6L957.4,211.9L955.0,212.6L952.3,214.6L949.9,217.3L947.8,216.3L945.1,215.3L943.4,217.0L944.0,220.1L943.0,222.8L943.4,225.9L941.7,227.9L938.9,229.3L938.2,231.0L935.5,233.1L932.4,234.1L930.7,233.7L927.6,237.2L927.3,240.6L926.3,244.7L925.9,250.0L925.8,252.8L919.5,247.5L917.0,240.5L914.5,233.6L912.3,226.9L910.3,220.2L908.7,213.5Z" fill="#548d91" stroke="#548d91" stroke-width="0.6"/>
<path d="M95.4,570.5L107.7,569.5L111.8,563.3L121.0,560.3L128.2,559.8L133.3,557.2L137.4,560.3L141.5,563.3L144.6,562.3L146.6,566.4L154.8,568.5L163.1,572.1L171.3,574.2L176.4,574.2L181.1,577.1L181.1,664.4L186.6,666.9L189.3,665.3L191.8,671.0L196.9,676.1L198.9,677.6L204.1,672.6L207.1,670.0L210.2,672.6L211.2,676.7L215.3,681.3L220.5,686.4L224.6,693.6L229.7,697.7L237.9,700.7L239.3,705.9L237.9,712.0L233.8,708.9L229.7,706.9L228.7,713.0L224.6,708.9L221.5,702.8L217.4,701.8L215.3,696.6L211.2,694.6L207.1,687.4L205.1,683.3L202.0,682.3L198.9,678.8L195.9,677.6L190.7,672.0L187.7,667.9L183.6,666.9L181.1,665.3L173.3,665.9L167.2,664.8L161.0,661.8L157.9,657.7L152.8,656.6L148.7,658.7L148.7,663.8L142.5,664.8L138.4,666.9L133.3,668.9L131.3,666.9L133.3,660.7L137.4,656.2L142.5,655.6L141.5,653.0L136.4,653.0L131.3,655.6L127.2,662.8L121.0,665.9L119.0,671.0L113.8,678.2L107.7,682.3L99.5,685.4L91.3,688.4L90.2,691.5L84.1,691.5L76.9,693.6L70.8,692.5L62.6,696.0L55.4,696.6L54.4,695.2L61.5,693.6L68.7,691.1L76.9,689.5L83.1,687.8L92.3,685.4L94.3,682.3L99.5,678.2L103.6,670.0L101.5,667.9L97.4,668.9L94.3,663.8L89.2,662.8L84.1,663.8L83.1,660.7L85.1,657.7L84.1,650.5L76.9,649.5L73.8,642.3L74.9,637.2L72.8,632.0L73.8,629.0L79.0,624.9L82.0,621.8L88.2,622.8L94.3,621.8L101.5,618.7L103.6,612.6L99.5,610.5L91.3,611.5L85.1,609.5L82.0,604.3L83.1,599.2L80.0,594.1L81.0,592.7L90.2,593.1L94.3,591.0L96.4,594.1L101.5,598.2L106.0,598.8L105.6,594.1L103.6,589.0L100.5,583.8L98.4,577.7ZM113.8,685.4L117.9,682.3L123.7,684.3L122.0,688.4L114.9,690.5L113.4,688.4ZM62.1,642.3L66.7,643.3L67.7,645.4L64.2,644.7ZM57.4,604.3L60.5,605.8L64.2,611.5L62.6,611.5L59.5,607.4ZM40.0,697.7L43.1,698.7L42.1,700.7L40.0,700.7ZM122.0,679.6L125.1,678.2L125.7,679.2L123.1,680.6Z" fill="#9be4d4" style="stroke:#9be4d4;stroke-width:0.4"/>
<path d="M260.3,643.2L262.3,641.2L261.8,642.7ZM270.5,638.5L272.6,636.4L276.0,635.7L278.4,636.4L278.4,639.8L276.7,642.1L273.9,641.6L271.2,640.2ZM302.0,650.1L304.7,648.0L307.4,647.3L310.2,652.1L313.2,655.3L310.8,656.2L306.1,655.3L304.0,652.8ZM323.1,659.0L327.9,659.6L333.1,659.4L332.0,660.7L326.6,660.7L323.8,659.9ZM328.2,665.1L330.7,665.4L331.8,667.2L330.0,667.9L328.6,666.5ZM335.5,663.5L338.2,662.4L341.6,664.4L346.4,666.2L349.8,668.1L347.8,670.3L343.7,671.7L340.2,670.6L338.2,667.2L336.1,665.1ZM352.5,680.2L356.0,680.8L360.7,683.2L366.2,687.0L370.3,691.8L374.7,695.9L371.7,698.6L366.2,700.7L362.1,702.7L359.4,706.1L356.6,708.6L353.9,706.8L352.8,703.4L353.2,699.3L351.9,694.5L349.1,691.1L350.5,689.0L352.8,687.0L352.3,682.9Z" fill="#204e60" style="stroke:#204e60;stroke-width:0.4"/>
<path d="M206.6,140.6L204.6,148.4L202.7,156.2L200.8,163.9L198.9,171.7L197.0,179.5L195.1,187.3L193.3,195.1L193.4,200.0L193.0,204.4M193.0,204.4L170.0,199.0L164.0,198.0L148.0,197.0L144.0,198.6L138.0,196.0L132.0,197.0L126.0,194.0L116.0,193.0L109.0,192.0L103.0,189.0L104.0,182.0L101.0,177.0L89.0,172.9M172.4,291.0L184.4,244.6L180.0,242.0L182.0,237.0L189.0,229.0L194.0,219.0L199.0,213.0L198.0,209.0L193.0,204.4M125.0,280.6L130.9,281.9L136.8,283.2L142.7,284.5L148.6,285.8L154.5,287.1L160.5,288.4L166.4,289.7L172.4,291.0M57.0,264.0L63.1,265.7L69.3,267.3L75.4,268.9L81.6,270.5L87.8,272.0L94.0,273.5L100.2,275.0L106.4,276.4L112.6,277.8L118.8,279.2L125.0,280.6M178.5,457.2L172.8,450.0L167.5,442.6L162.4,435.1L157.3,427.5L152.2,419.8L147.0,412.1L141.8,404.2L136.6,396.4L131.4,388.5L126.1,380.5L121.0,372.6L115.9,364.6L110.9,356.6L106.0,348.6L108.3,340.2L110.7,331.7L113.1,323.2L115.5,314.6L117.9,306.1L120.3,297.5L122.7,289.0L125.0,280.6M172.7,501.9L173.6,501.1L172.8,498.4L170.0,497.2L170.5,494.8L173.6,493.3L175.2,489.4L176.7,484.7L179.1,480.0L183.8,477.7L185.3,473.8L183.0,470.6L181.4,465.2L179.1,461.3L178.5,457.2M172.4,291.0L178.5,292.4L184.6,293.8L190.7,295.3L196.8,296.7L202.9,298.1L209.0,299.4L215.2,300.8L221.3,302.0M200.5,417.4L202.4,408.9L204.1,400.4L205.7,391.7L207.3,382.9L208.8,374.1L210.3,365.2L211.8,356.3L213.3,347.3L214.9,338.2L216.5,329.2L218.1,320.1L219.7,311.0L221.3,302.0M178.5,457.2L181.0,456.0L182.4,434.0L187.0,432.0L190.0,434.0L194.0,436.0L197.6,433.0L200.5,417.4M220.0,143.6L217.0,163.0L220.0,169.0L219.0,175.0L222.4,181.0L225.0,187.0L235.0,200.0L231.0,211.0L229.0,221.0L231.0,225.0L237.0,224.0L241.0,233.0L245.0,243.0L247.0,245.0L249.0,253.0L257.0,252.0L265.0,254.0L271.0,251.0L275.0,249.4L278.0,255.0M278.0,255.0L276.8,262.4L275.7,270.0L274.6,277.7L273.6,285.5L272.4,293.5L271.3,301.6L270.0,310.0M221.3,302.0L227.4,303.2L233.5,304.2L239.6,305.3L245.7,306.2L251.8,307.2L257.9,308.1L264.0,309.0L270.0,310.0M398.6,170.6L397.9,179.2L397.2,187.9L396.5,196.6L395.8,205.2L395.1,213.9L394.3,222.4L393.5,230.8L392.6,239.0M392.6,239.0L391.5,245.3L390.4,251.5L389.4,258.0M389.4,258.0L383.4,257.6L377.4,257.2L371.4,256.8L365.3,256.3L359.3,255.7L353.2,255.1L347.1,254.4L341.0,253.7L334.9,252.9L328.8,252.1L322.7,251.2L316.6,250.3L310.5,249.4L304.4,248.5L298.3,247.5L292.2,246.6L286.1,245.6L280.0,244.6L279.0,249.8L278.0,255.0M389.4,258.0L388.7,267.0L388.1,276.5L387.6,286.1L387.2,295.7L386.6,305.0M386.6,305.0L385.8,313.8L384.9,322.3L383.9,330.6L382.9,339.0L382.0,347.6M382.0,347.6L375.6,347.0L369.1,346.6L362.6,346.1L356.1,345.6L349.6,345.1L343.1,344.6L336.6,344.1L330.1,343.5L323.7,342.9L317.2,342.2L310.8,341.5L304.4,340.8L298.0,340.0M298.0,340.0L291.5,339.1L285.0,338.1L278.5,337.1L272.1,336.1L265.6,335.0L267.1,326.7L268.6,318.3L270.0,310.0M298.0,340.0L296.7,349.3L295.4,358.5L294.2,367.5L293.1,376.5L291.9,385.3L290.8,394.1L289.6,402.9L288.4,411.6L287.2,420.2L286.0,428.9M286.0,428.9L279.4,428.1L272.9,427.4L266.3,426.7L259.8,425.9L253.3,425.2L246.8,424.4L240.2,423.5L233.7,422.6L227.1,421.7L220.5,420.7L213.9,419.7L207.3,418.6L200.5,417.4M382.0,347.6L388.7,348.4L395.4,349.3L402.1,350.1L408.8,350.9L415.4,351.6L414.9,359.1L414.4,366.5L414.0,374.0M414.0,374.0L413.6,382.3L413.2,390.5L412.9,398.7L412.5,406.9L412.0,415.0L411.5,423.2L410.8,431.4L410.0,439.6M410.0,439.6L404.3,439.7L398.7,439.9L393.0,440.0M393.0,440.0L386.1,439.8L379.2,439.4L372.4,438.9L365.6,438.3L358.8,437.6L352.1,436.9L345.4,436.2L338.7,435.5L332.0,434.7L325.3,433.9L318.7,433.1L312.1,432.2L305.6,431.4L299.0,430.6L292.5,429.7L286.0,428.9M286.0,428.9L284.9,437.2L283.7,445.5L282.6,453.8L281.4,462.1L280.3,470.3L279.1,478.5L278.0,486.7L276.8,494.9L275.6,503.0L274.4,511.1L273.1,519.2L271.9,527.2L270.7,535.0L269.6,542.8L268.6,550.4M393.0,440.0L392.0,445.5L391.0,451.0M391.0,451.0L389.9,459.2L389.1,467.4L388.5,475.5L387.9,483.7L387.3,491.7L386.7,499.7L386.2,507.7L385.6,515.5L385.0,523.4L384.4,531.2L383.7,539.1L383.0,547.0L375.5,546.3L367.9,545.7L360.4,545.1L352.8,544.6L345.3,544.0L337.8,543.5L330.3,542.9L322.8,542.3L315.3,541.7M560.0,603.0L562.0,592.0L561.0,584.0L564.0,576.0L562.0,564.0L558.0,554.0L555.0,544.0L554.4,528.4M554.4,528.4L554.7,524.0L555.0,519.6L551.0,519.9L547.0,520.0M547.0,520.0L542.0,519.0L534.0,513.6L526.0,517.0L516.0,515.6L512.0,518.0L500.0,514.0L498.0,517.0L487.0,513.0L480.0,514.0L470.0,509.0L456.0,506.0L446.0,501.0L444.7,498.0L446.0,452.4L391.0,451.0M410.0,439.6L417.0,439.7L423.9,439.9L430.9,440.2L437.9,440.6L444.8,441.0L451.8,441.4L458.7,441.9L465.6,442.4L472.5,442.9L479.4,443.3L486.2,443.6L493.0,443.9L499.8,444.1L506.6,444.2L513.3,444.2L520.0,444.1L526.7,444.0L533.4,443.8L540.0,443.6M540.0,443.6L541.5,449.0L543.0,454.4M543.0,454.4L545.3,462.8L547.2,471.5L548.7,480.2L548.6,488.6L548.4,496.9L548.0,505.0L547.6,512.8L547.0,520.0M414.0,374.0L420.7,374.5L427.4,374.8L434.1,375.1L440.8,375.4L447.5,375.6L454.2,375.8L460.9,376.0L467.6,376.2L474.4,376.4L481.1,376.5L487.9,376.6L494.7,376.8L501.5,376.8L508.2,376.8L514.7,376.8L520.9,376.6L527.0,376.4M527.0,376.4L531.8,378.4L533.6,381.7L529.7,386.4L532.8,392.0L537.6,396.1L537.5,404.1L537.5,412.0L537.7,420.0L538.1,427.9L538.8,435.8L540.0,443.6M386.6,305.0L393.0,305.5L399.3,305.9L405.6,306.2L411.9,306.5L418.2,306.8L424.5,307.1L430.9,307.4L437.2,307.6L443.5,307.7L449.9,307.8L456.2,307.9L462.5,307.9L468.9,307.9L475.3,307.9L479.0,310.4L482.8,313.0L486.8,312.0L490.9,311.0L495.7,310.9L499.2,313.7L502.7,316.5L506.5,319.0M506.5,319.0L508.3,325.8L510.8,330.4L513.4,335.1L514.3,342.2L518.1,348.0L520.1,356.2L521.6,363.6M521.6,363.6L524.3,369.8L527.0,376.4M392.6,239.0L398.6,239.4L404.6,239.8L410.7,240.1L416.7,240.5L422.7,240.8L428.7,241.2L434.7,241.4L440.7,241.7L446.7,242.0L452.6,242.2L458.6,242.3L464.6,242.5L470.5,242.6L476.4,242.8L482.3,242.8L488.2,242.9L494.1,243.0L500.0,243.0L506.0,243.0M506.0,243.0L503.6,249.4L508.0,255.0L510.0,267.0L510.4,296.0M510.4,296.0L507.2,300.5L507.6,307.3L506.9,313.1L506.5,319.0M499.6,175.4L501.0,195.0L503.0,211.0L505.0,227.0L506.4,235.0L506.0,243.0M575.4,223.5L573.0,226.0L573.0,237.0L567.0,243.0L565.6,248.0L568.0,253.0L568.0,262.0L571.0,271.0L578.0,275.0L586.0,283.0L592.0,289.0L593.0,294.6M510.4,296.0L516.2,296.0L522.0,295.9L527.8,295.9L533.7,295.9L539.6,295.8L545.5,295.7L551.4,295.7L557.4,295.5L563.3,295.4L569.3,295.3L575.2,295.1L581.2,295.0L587.1,294.8L593.0,294.6M593.0,294.6L596.0,303.4L595.7,307.9L600.4,312.1L605.0,316.4M605.0,316.4L608.9,321.1L612.6,325.8L613.9,332.7L607.9,339.5L603.8,340.5L599.8,341.6L599.1,346.1L601.7,351.7L599.3,356.1L594.3,360.6L594.0,364.4M521.6,363.6L527.3,363.3L532.9,362.9L538.7,362.5L544.7,362.1L550.8,361.7L557.0,361.3L563.3,360.9L569.6,360.4L575.9,360.0L582.3,359.7L588.7,359.4L594.0,364.4M594.0,364.4L592.5,373.1L594.2,375.3L597.2,380.4L600.2,385.4L606.4,390.9L606.4,396.6L611.0,397.2L615.6,397.7L615.7,403.4L614.4,408.3L613.2,413.3L619.7,418.6L624.5,425.7L629.4,432.9L637.5,439.5M637.5,439.5L638.4,446.7L634.6,450.3M634.6,450.3L633.7,455.7L632.4,461.0M632.4,461.0L626.3,461.4L620.3,461.7L621.0,456.4L621.6,451.1L615.1,451.4L608.5,451.7L601.9,451.9L595.3,452.2L588.7,452.5L582.1,452.9L575.5,453.2L568.9,453.5L562.3,453.8L555.8,454.0L549.4,454.2L543.0,454.4M632.4,461.0L633.2,464.1L629.6,471.7L629.2,479.1L626.0,482.5M626.0,482.5L621.9,489.2L621.3,495.7L617.6,500.3L613.7,504.8L611.9,513.6L610.0,518.0L611.0,527.0M611.0,527.0L604.0,527.0L597.0,527.0L589.9,527.0L582.8,527.1L575.7,527.2L568.5,527.4L561.4,527.7L554.4,528.4M611.0,527.0L612.0,536.0L614.6,540.0L614.0,542.3L615.2,545.3L613.4,549.4L609.3,556.4L605.2,563.4L604.6,571.6L606.4,574.0L641.6,572.8L640.4,576.3L642.2,579.8L645.1,583.4L647.4,586.9M626.0,482.5L632.5,482.2L639.0,481.8L645.5,481.4L652.0,481.0L658.5,480.5L665.0,480.0M665.0,480.0L665.0,500.0L664.5,540.0L666.8,563.4L668.5,582.2M665.0,480.0L671.7,479.6L678.4,479.3L685.0,478.9L691.6,478.4L698.2,477.9L704.7,477.2L711.0,476.4M711.0,476.4L712.7,483.9L714.4,491.4L716.1,499.0L717.8,506.7L719.6,514.7L721.4,522.7L723.4,527.9L725.4,533.1L725.1,540.2L725.1,546.0L725.3,551.7L727.0,558.0L729.0,564.0M729.0,564.0L680.8,569.9L682.6,572.2L684.3,575.2L685.5,579.8L686.1,582.2M729.0,564.0L733.0,569.0L760.0,570.0L786.9,568.6L789.4,571.8L790.2,571.0L789.4,562.0L799.3,561.6M732.0,472.0L726.6,473.1L721.4,474.2L716.3,475.3L711.0,476.4M753.4,471.0L748.3,470.5L743.0,470.6L737.5,471.1L732.0,472.0M803.4,530.0L795.0,522.0L791.0,518.0L783.0,507.0L775.0,500.0L767.0,494.0L763.0,488.0L755.0,480.0L750.5,474.8L753.4,471.0M753.4,471.0L757.0,468.0L767.0,465.0L775.0,463.0L780.0,463.0L787.3,461.8L793.5,463.0L798.4,467.1L815.5,465.5L840.6,481.8M732.0,472.0L732.2,466.6L737.4,462.0L741.8,460.5L746.1,459.1L749.5,456.7L752.8,454.1L755.2,449.7L760.8,447.1L765.2,445.5L769.6,443.9L774.6,437.1L774.0,432.0M774.0,432.0L780.4,431.0L787.0,429.9L793.7,428.6L800.5,427.3L807.3,425.9L814.2,424.4L821.0,422.9L827.8,421.4L834.6,419.9L841.4,418.5L848.2,417.2L855.0,416.0L861.9,415.1L868.8,414.5L875.7,413.9M634.6,450.3L640.8,449.7L647.2,449.0L653.8,448.1L660.4,447.3L659.9,443.2L667.7,442.4L675.4,441.7L683.1,441.1L690.7,440.4L698.3,439.8L705.8,439.1L713.3,438.4L720.9,437.6L728.4,436.9L735.9,436.2L743.0,435.6M743.0,435.6L749.3,435.3L755.3,435.0L761.3,434.4L767.5,433.3L774.0,432.0M637.5,439.5L637.4,434.4L642.8,435.2L648.4,435.9L649.3,427.9L655.9,424.6L656.0,417.6M656.0,417.6L667.5,416.1L672.2,416.9L676.9,413.0L681.6,415.3L686.3,409.8L690.2,411.4L692.5,405.9L697.2,401.3L699.5,396.6L705.8,391.9L708.0,385.0M708.0,385.0L715.2,384.8L719.8,389.5L726.9,391.1L733.1,389.5L739.4,390.3L746.4,388.0L748.8,391.9L752.6,395.0M752.6,395.0L753.3,401.6L759.2,410.8L765.0,415.0M765.0,415.0L760.5,420.4L756.2,425.6L753.5,428.8L750.8,432.0L747.0,433.8L743.0,435.6M752.6,395.0L758.5,389.8L758.9,380.9L764.8,378.6L767.2,371.3L771.7,366.9L776.2,362.7L778.0,357.5L778.3,350.0L778.5,342.8L779.6,337.4M779.6,337.4L781.1,344.0L782.6,350.7L784.0,357.5L790.0,357.5L796.0,357.6L801.9,357.6M801.9,357.6L803.5,365.0L809.4,359.9L813.5,357.9L819.6,355.8L822.4,353.5L825.8,354.0L829.2,357.2L833.3,359.9M833.3,359.9L832.6,364.0L823.1,361.3L819.6,372.2L814.2,377.0L810.8,384.9L804.6,383.8L800.5,394.8L795.0,405.7L790.0,411.5L785.5,414.5L781.0,418.0L773.0,418.0L765.0,415.0M833.3,359.9L837.4,362.6L844.3,366.1L847.0,364.0L848.4,366.1L845.6,370.2L845.4,377.0L851.1,378.4L856.6,379.7L860.0,381.1L862.0,381.1M605.0,316.4L610.5,316.4L616.0,316.4L621.4,316.4L626.9,316.2L632.4,316.0L638.0,315.6L643.9,314.9L650.0,314.0M658.3,333.0L659.4,341.8L660.1,350.3L660.4,358.8L660.8,367.2L661.1,375.6L661.7,383.8L660.9,389.2L663.6,397.4L659.9,404.1L657.0,410.8L656.0,417.6M672.0,327.0L677.6,326.1L682.7,325.8L687.5,325.7L692.3,325.8L697.1,325.8L702.0,325.8M702.0,325.8L702.9,334.1L703.7,342.5L704.4,350.9L705.1,359.5L705.9,368.1L706.8,376.6L708.0,385.0M702.0,325.8L707.2,325.1L712.7,324.2L718.3,323.3L724.0,322.4M775.0,311.0L775.6,317.0L776.7,323.5L778.0,330.3L779.6,337.4M648.2,255.1L646.6,248.8L643.4,241.7L639.5,237.8L601.6,226.2M787.0,303.0L786.7,306.8L858.0,292.6L860.2,294.7L864.3,295.8L865.5,299.6L867.3,302.3L870.2,304.6M870.2,304.6L868.7,308.4L868.1,311.4L866.7,314.3L867.6,316.9L865.8,320.1L866.4,323.1L869.3,325.4L871.4,327.8L874.3,329.8L876.9,331.3L874.3,336.7L870.2,340.8L868.9,342.0M868.9,342.0L866.0,341.3L863.4,342.8M863.4,342.8L857.3,343.4L851.2,344.9L845.1,346.7L839.1,348.7L833.0,350.7L826.8,352.6L820.6,354.2L814.4,355.6L808.2,356.8L801.9,357.6M875.9,221.5L876.2,225.5L876.9,232.3L878.9,237.8L880.3,244.6L882.4,250.1L884.4,255.5L887.1,269.0M887.1,269.0L887.5,276.7L887.6,284.7M887.6,284.7L888.6,291.0L889.5,296.9L890.0,302.7L889.5,308.3M870.2,304.6L877.8,307.0L886.0,309.0L888.6,310.6M863.4,342.8L870.9,371.5L881.2,370.3M887.6,284.7L892.6,283.6L897.6,282.5L902.7,281.4L908.0,280.3L913.5,279.3M913.5,279.3L915.9,289.1L917.7,293.5M913.5,279.3L920.3,277.5L924.7,283.2L927.6,287.6L928.6,287.1M887.1,269.0L890.8,268.0L894.5,267.0L898.3,266.1M898.3,266.1L918.8,261.2L923.0,259.0L924.7,258.6M898.3,266.1L897.7,244.1L898.1,231.9L902.9,223.3L901.5,214.6M925.8,252.8L919.5,247.5L917.0,240.5L914.5,233.6L912.3,226.9L910.3,220.2L908.7,213.5L907.6,206.8" fill="none" stroke="#fff" stroke-width="1.5" stroke-linejoin="round" stroke-linecap="round"/>
</g>
<g id="extra">
<path d="M817.5,695.2L821,693.6L822,694.2L818.5,695.8Z" fill="#3b7080"/><path d="M846.3,363.6L848.2,365.4L846.3,367.2L844.4,365.4Z" fill="#6badaa" stroke="#fff" stroke-width="0.8"/><path d="M935.6,289.2L937.4,288.2L937.6,289L936,289.8Z M946.2,288.4L947.2,287.8L947.4,288.6Z" fill="#62a0a0"/><path d="M618.2,195L626.4,189.6L626.9,190.2L619,195.6Z" fill="#5b9798"/><path d="M75.6,459L77.4,459.4L77.2,460.2L75.8,459.8Z M80.4,459.6L82.6,460.4L82.2,461.2L80.6,460.6Z M102.4,478.4L104.2,480.4L103.6,480.8L102.2,479Z" fill="#2f606f"/><path d="M946.8,222.6L948.2,221.4L948.6,222.4L947.4,223.6Z M953.6,216.4L955.4,214.6L955.8,215.4L954.2,217Z" fill="#528e92"/>
</g>
<g id="labels">
<text transform="translate(149.7,152.9) scale(0.940,1)" font-size="16.5" font-weight="700" fill="#fff" text-anchor="middle">WA</text>
<text x="144.7" y="168.7" font-size="15.8" fill="#fff" text-anchor="middle">49.4¢</text>
<text x="149.5" y="182.7" font-size="15.8" fill="#fff" text-anchor="middle">#2</text>
<text transform="translate(131.2,231.5) scale(0.940,1)" font-size="16.5" font-weight="700" fill="#fff" text-anchor="middle">OR</text>
<text x="130.8" y="247.1" font-size="15.8" fill="#fff" text-anchor="middle">31.12¢</text>
<text x="130.6" y="261.7" font-size="15.8" fill="#fff" text-anchor="middle">#19</text>
<text transform="translate(217.8,247.3) scale(0.940,1)" font-size="16.5" font-weight="700" fill="#fff" text-anchor="middle">ID</text>
<text x="217.0" y="262.3" font-size="15.8" fill="#fff" text-anchor="middle">33.00¢</text>
<text x="217.7" y="276.7" font-size="15.8" fill="#fff" text-anchor="middle">#16</text>
<text transform="translate(315.7,192.9) scale(0.940,1)" font-size="16.5" font-weight="700" fill="#fff" text-anchor="middle">MT</text>
<text x="315.5" y="208.7" font-size="15.8" fill="#fff" text-anchor="middle">27.75¢</text>
<text x="315.0" y="223.1" font-size="15.8" fill="#fff" text-anchor="middle">#29</text>
<text transform="translate(326.2,286.9) scale(0.940,1)" font-size="16.5" font-weight="700" fill="#fff" text-anchor="middle">WY</text>
<text x="326.3" y="302.3" font-size="15.8" fill="#fff" text-anchor="middle">24.00¢</text>
<text x="326.2" y="316.7" font-size="15.8" fill="#fff" text-anchor="middle">#33</text>
<text transform="translate(165.2,342.9) scale(0.940,1)" font-size="16.5" font-weight="700" fill="#fff" text-anchor="middle">NV</text>
<text x="164.7" y="357.3" font-size="15.8" fill="#fff" text-anchor="middle">33.52¢</text>
<text x="165.0" y="372.3" font-size="15.8" fill="#fff" text-anchor="middle">#14</text>
<text transform="translate(252.5,365.6) scale(0.940,1)" font-size="16.5" font-weight="700" fill="#fff" text-anchor="middle">UT</text>
<text x="253.0" y="380.6" font-size="15.8" fill="#fff" text-anchor="middle">29.41¢</text>
<text x="253.0" y="395.6" font-size="15.8" fill="#fff" text-anchor="middle">#25</text>
<text transform="translate(92.0,373.9) scale(0.940,1)" font-size="16.5" font-weight="700" fill="#fff" text-anchor="middle">CA</text>
<text x="91.3" y="388.7" font-size="15.8" fill="#fff" text-anchor="middle">38.13¢</text>
<text x="91.0" y="403.7" font-size="15.8" fill="#fff" text-anchor="middle">#7</text>
<text transform="translate(353.0,381.5) scale(0.940,1)" font-size="16.5" font-weight="700" fill="#fff" text-anchor="middle">CO</text>
<text x="352.8" y="396.1" font-size="15.8" fill="#fff" text-anchor="middle">22.00¢</text>
<text x="352.5" y="411.1" font-size="15.8" fill="#fff" text-anchor="middle">#39</text>
<text transform="translate(449.3,199.9) scale(0.940,1)" font-size="16.5" font-weight="700" fill="#fff" text-anchor="middle">ND</text>
<text x="449.3" y="214.3" font-size="15.8" fill="#fff" text-anchor="middle">23.00¢</text>
<text x="449.3" y="228.7" font-size="15.8" fill="#fff" text-anchor="middle">#35</text>
<text transform="translate(449.0,264.9) scale(0.940,1)" font-size="16.5" font-weight="700" fill="#fff" text-anchor="middle">SD</text>
<text x="450.1" y="280.3" font-size="15.8" fill="#fff" text-anchor="middle">30.00¢</text>
<text x="451.0" y="294.3" font-size="15.8" fill="#fff" text-anchor="middle">#24</text>
<text transform="translate(452.5,333.4) scale(0.940,1)" font-size="16.5" font-weight="700" fill="#fff" text-anchor="middle">NE</text>
<text x="453.7" y="348.1" font-size="15.8" fill="#fff" text-anchor="middle">28.20¢</text>
<text x="453.4" y="363.0" font-size="15.8" fill="#fff" text-anchor="middle">#27</text>
<text transform="translate(470.8,401.5) scale(0.940,1)" font-size="16.5" font-weight="700" fill="#fff" text-anchor="middle">KS</text>
<text x="471.0" y="416.7" font-size="15.8" fill="#fff" text-anchor="middle">24.03¢</text>
<text x="470.8" y="431.3" font-size="15.8" fill="#fff" text-anchor="middle">#32</text>
<text transform="translate(537.4,238.5) scale(0.940,1)" font-size="16.5" font-weight="700" fill="#fff" text-anchor="middle">MN</text>
<text x="537.3" y="253.1" font-size="15.8" fill="#fff" text-anchor="middle">28.60¢</text>
<text x="537.2" y="267.7" font-size="15.8" fill="#fff" text-anchor="middle">#26</text>
<text transform="translate(554.0,318.9) scale(0.940,1)" font-size="16.5" font-weight="700" fill="#fff" text-anchor="middle">IA</text>
<text x="553.8" y="333.3" font-size="15.8" fill="#fff" text-anchor="middle">30.70¢</text>
<text x="553.4" y="348.1" font-size="15.8" fill="#fff" text-anchor="middle">#21</text>
<text transform="translate(574.6,399.9) scale(0.940,1)" font-size="16.5" font-weight="700" fill="#fff" text-anchor="middle">MO</text>
<text x="574.7" y="415.3" font-size="15.8" fill="#fff" text-anchor="middle">17.30¢</text>
<text x="574.3" y="429.3" font-size="15.8" fill="#fff" text-anchor="middle">#47</text>
<text transform="translate(615.6,266.9) scale(0.940,1)" font-size="16.5" font-weight="700" fill="#fff" text-anchor="middle">WI</text>
<text x="615.3" y="282.3" font-size="15.8" fill="#fff" text-anchor="middle">32.90¢</text>
<text x="615.4" y="296.7" font-size="15.8" fill="#fff" text-anchor="middle">#17</text>
<text transform="translate(632.0,357.5) scale(0.940,1)" font-size="16.5" font-weight="700" fill="#fff" text-anchor="middle">IL</text>
<text x="631.6" y="372.0" font-size="15.8" fill="#fff" text-anchor="middle">34.01¢</text>
<text x="631.6" y="386.9" font-size="15.8" fill="#fff" text-anchor="middle">#11</text>
<text transform="translate(682.8,362.9) scale(0.940,1)" font-size="16.5" font-weight="700" fill="#fff" text-anchor="middle">IN</text>
<text x="683.8" y="377.3" font-size="13.8" fill="#fff" text-anchor="middle">33.59¢</text>
<text x="683.8" y="390.9" font-size="13.8" fill="#fff" text-anchor="middle">#13</text>
<text transform="translate(690.4,288.9) scale(0.940,1)" font-size="16.5" font-weight="700" fill="#fff" text-anchor="middle">MI</text>
<text x="701.2" y="304.7" font-size="15.8" fill="#fff" text-anchor="middle">40.44¢</text>
<text x="700.0" y="318.7" font-size="15.8" fill="#fff" text-anchor="middle">#5</text>
<text transform="translate(738.3,348.3) scale(0.940,1)" font-size="16.5" font-weight="700" fill="#fff" text-anchor="middle">OH</text>
<text x="738.3" y="363.7" font-size="15.8" fill="#fff" text-anchor="middle">28.01¢</text>
<text x="738.0" y="378.1" font-size="15.8" fill="#fff" text-anchor="middle">#28</text>
<text transform="translate(786.5,382.9) scale(0.940,1)" font-size="16.5" font-weight="700" fill="#fff" text-anchor="middle">WV</text>
<text x="779.0" y="396.5" font-size="12.6" fill="#fff" text-anchor="middle">32.20¢</text>
<text x="776.3" y="410.5" font-size="12.6" fill="#fff" text-anchor="middle">#18</text>
<text transform="translate(831.3,386.3) scale(0.940,1)" font-size="16.5" font-weight="700" fill="#fff" text-anchor="middle">VA</text>
<text x="830.9" y="401.8" font-size="15.8" fill="#fff" text-anchor="middle">22.39¢</text>
<text x="831.3" y="414.8" font-size="15.8" fill="#fff" text-anchor="middle">#38</text>
<text transform="translate(859.8,260.1) scale(0.940,1)" font-size="16.5" font-weight="700" fill="#fff" text-anchor="middle">NY</text>
<text x="860.2" y="277.0" font-size="15.8" fill="#fff" text-anchor="middle">43.88¢</text>
<text x="860.6" y="291.1" font-size="15.8" fill="#fff" text-anchor="middle">#4</text>
<text transform="translate(826.8,316.1) scale(0.940,1)" font-size="16.5" font-weight="700" fill="#fff" text-anchor="middle">PA</text>
<text x="826.5" y="330.7" font-size="15.8" fill="#fff" text-anchor="middle">58.20¢</text>
<text x="826.5" y="346.5" font-size="15.8" fill="#fff" text-anchor="middle">#1</text>
<text transform="translate(933.6,189.3) scale(0.940,1)" font-size="16.5" font-weight="700" fill="#fff" text-anchor="middle">ME</text>
<text x="939.7" y="203.8" font-size="15.8" fill="#fff" text-anchor="middle">30.01¢</text>
<text x="927.5" y="218.6" font-size="15.8" fill="#fff" text-anchor="middle">#23</text>
<text transform="translate(229.5,470.9) scale(0.940,1)" font-size="16.5" font-weight="700" fill="#fff" text-anchor="middle">AZ</text>
<text x="230.0" y="485.7" font-size="15.8" fill="#fff" text-anchor="middle">19.00¢</text>
<text x="230.0" y="500.3" font-size="15.8" fill="#fff" text-anchor="middle">#44</text>
<text transform="translate(331.8,478.3) scale(0.940,1)" font-size="16.5" font-weight="700" fill="#fff" text-anchor="middle">NM</text>
<text x="332.0" y="492.7" font-size="15.8" fill="#fff" text-anchor="middle">18.88¢</text>
<text x="332.0" y="508.7" font-size="15.8" fill="#fff" text-anchor="middle">#45</text>
<text transform="translate(137.4,603.5) scale(0.940,1)" font-size="16.5" font-weight="700" fill="#fff" text-anchor="middle">AK</text>
<text x="137.4" y="618.3" font-size="15.8" fill="#fff" text-anchor="middle">12.25¢</text>
<text x="137.4" y="633.2" font-size="15.8" fill="#fff" text-anchor="middle">#50</text>
<text transform="translate(312.2,684.0) scale(0.940,1)" font-size="16.5" font-weight="700" fill="#444" text-anchor="middle">HI</text>
<text x="311.5" y="700.2" font-size="15.8" fill="#444" text-anchor="middle">44.39¢</text>
<text x="312.2" y="713.9" font-size="15.8" fill="#444" text-anchor="middle">#3</text>
<text transform="translate(490.3,468.3) scale(0.940,1)" font-size="16.5" font-weight="700" fill="#fff" text-anchor="middle">OK</text>
<text x="490.4" y="483.3" font-size="15.8" fill="#fff" text-anchor="middle">17.00¢</text>
<text x="490.4" y="498.0" font-size="15.8" fill="#fff" text-anchor="middle">#48</text>
<text transform="translate(457.4,552.3) scale(0.940,1)" font-size="16.5" font-weight="700" fill="#fff" text-anchor="middle">TX</text>
<text x="456.7" y="567.3" font-size="15.8" fill="#fff" text-anchor="middle">20.00¢</text>
<text x="457.2" y="582.1" font-size="15.8" fill="#fff" text-anchor="middle">#43</text>
<text transform="translate(581.0,482.9) scale(0.940,1)" font-size="16.5" font-weight="700" fill="#fff" text-anchor="middle">AR</text>
<text x="581.0" y="497.2" font-size="15.8" fill="#fff" text-anchor="middle">21.80¢</text>
<text x="581.5" y="512.7" font-size="15.8" fill="#fff" text-anchor="middle">#40</text>
<text transform="translate(637.0,519.9) scale(0.940,1)" font-size="16.5" font-weight="700" fill="#fff" text-anchor="middle">MS</text>
<text x="637.7" y="534.2" font-size="15.8" fill="#fff" text-anchor="middle">18.79¢</text>
<text x="637.0" y="548.7" font-size="15.8" fill="#fff" text-anchor="middle">#46</text>
<text transform="translate(693.8,515.5) scale(0.940,1)" font-size="16.5" font-weight="700" fill="#fff" text-anchor="middle">AL</text>
<text x="693.4" y="530.7" font-size="15.8" fill="#fff" text-anchor="middle">22.91¢</text>
<text x="693.3" y="544.7" font-size="15.8" fill="#fff" text-anchor="middle">#37</text>
<text transform="translate(752.8,511.9) scale(0.940,1)" font-size="16.5" font-weight="700" fill="#fff" text-anchor="middle">GA</text>
<text x="752.8" y="527.3" font-size="15.8" fill="#fff" text-anchor="middle">31.09¢</text>
<text x="752.7" y="541.7" font-size="15.8" fill="#fff" text-anchor="middle">#20</text>
<text transform="translate(784.0,480.3) scale(0.940,1)" font-size="16.5" font-weight="700" fill="#fff" text-anchor="middle">SC</text>
<text x="800.0" y="495.7" font-size="15.8" fill="#fff" text-anchor="middle">16.75¢</text>
<text x="808.0" y="510.7" font-size="15.8" fill="#fff" text-anchor="middle">#49</text>
<text transform="translate(807.0,626.9) scale(0.940,1)" font-size="16.5" font-weight="700" fill="#fff" text-anchor="middle">FL</text>
<text x="813.5" y="643.3" font-size="15.8" fill="#fff" text-anchor="middle">36.80¢</text>
<text x="818.8" y="656.7" font-size="15.8" fill="#fff" text-anchor="middle">#9</text>
<text transform="translate(668.0,463.9) scale(0.940,1)" font-size="16.5" font-weight="700" fill="#fff" text-anchor="middle">TN</text>
<text x="707.5" y="458.1" font-size="15.8" fill="#fff" text-anchor="middle">21.40¢</text>
<text x="693.6" y="472.7" font-size="15.8" fill="#fff" text-anchor="middle">#41</text>
<text transform="translate(711.2,418.3) scale(0.940,1)" font-size="16.5" font-weight="700" fill="#fff" text-anchor="middle">KY</text>
<text x="705.8" y="433.3" font-size="15.8" fill="#fff" text-anchor="middle">26.00¢ #31</text>
<text transform="translate(826.0,442.9) scale(0.940,1)" font-size="16.5" font-weight="700" fill="#fff" text-anchor="middle">NC</text>
<text x="820.5" y="457.5" font-size="15.8" fill="#fff" text-anchor="middle">34.55¢ #10</text>
<text transform="translate(581.2,578.9) scale(0.940,1)" font-size="16.5" font-weight="700" fill="#fff" text-anchor="middle">LA</text>
<text x="604.0" y="593.5" font-size="14.2" fill="#fff" text-anchor="middle">20.01¢ #42</text>
</g>
<g id="side">
<rect x="977.5" y="339.8" width="17" height="17" fill="#639f9f"/>
<text transform="translate(972.5,354.4) scale(0.940,1)" font-size="17" font-weight="700" fill="#474747" text-anchor="end">MA</text>
<text x="994.6" y="375.0" font-size="15.9" fill="#4a4a4a" text-anchor="end">26.54¢ #30</text>
<rect x="977.5" y="382.9" width="17" height="17" fill="#457b83"/>
<text transform="translate(972.5,397.5) scale(0.940,1)" font-size="17" font-weight="700" fill="#474747" text-anchor="end">RI</text>
<text x="994.6" y="418.1" font-size="15.9" fill="#4a4a4a" text-anchor="end">34.00¢ #12</text>
<rect x="977.5" y="424.7" width="17" height="17" fill="#275767"/>
<text transform="translate(972.5,439.3) scale(0.940,1)" font-size="17" font-weight="700" fill="#474747" text-anchor="end">CT</text>
<text x="994.6" y="459.9" font-size="15.9" fill="#4a4a4a" text-anchor="end">39.85¢ #6</text>
<rect x="977.5" y="467.1" width="17" height="17" fill="#376a76"/>
<text transform="translate(972.5,481.7) scale(0.940,1)" font-size="17" font-weight="700" fill="#474747" text-anchor="end">NJ</text>
<text x="994.6" y="502.3" font-size="15.9" fill="#4a4a4a" text-anchor="end">37.10¢ #8</text>
<rect x="977.5" y="509.5" width="17" height="17" fill="#6faeab"/>
<text transform="translate(972.5,524.1) scale(0.940,1)" font-size="17" font-weight="700" fill="#474747" text-anchor="end">DE</text>
<text x="994.6" y="544.7" font-size="15.9" fill="#4a4a4a" text-anchor="end">23.00¢ #35</text>
<rect x="977.5" y="551.9" width="17" height="17" fill="#477e85"/>
<text transform="translate(972.5,566.5) scale(0.940,1)" font-size="17" font-weight="700" fill="#474747" text-anchor="end">MD</text>
<text x="994.6" y="587.1" font-size="15.9" fill="#4a4a4a" text-anchor="end">33.50¢ #15</text>
<rect x="977.5" y="594.3" width="17" height="17" fill="#6daca9"/>
<text transform="translate(972.5,608.9) scale(0.940,1)" font-size="17" font-weight="700" fill="#474747" text-anchor="end">DC</text>
<text x="994.6" y="629.5" font-size="15.9" fill="#4a4a4a" text-anchor="end">23.50¢ (#32)</text>
<rect x="776.0" y="146.0" width="17" height="17" fill="#528b8f"/>
<text transform="translate(770.0,160.6) scale(0.940,1)" font-size="17" font-weight="700" fill="#474747" text-anchor="end">VT</text>
<text x="793.0" y="178.2" font-size="15.9" fill="#4a4a4a" text-anchor="end">30.46¢ #22</text>
<rect x="871.0" y="146.0" width="17" height="17" fill="#6caba8"/>
<text transform="translate(867.0,160.6) scale(0.940,1)" font-size="17" font-weight="700" fill="#474747" text-anchor="end">NH</text>
<text x="888.5" y="178.2" font-size="15.9" fill="#4a4a4a" text-anchor="end">23.83¢ #34</text>
</g>
<g id="legend">
<text x="724" y="758" font-size="14" fill="#666" font-weight="700" textLength="231.5" lengthAdjust="spacing">Total State Taxes/Fees on Gasoline</text>
<rect x="681.0" y="769.8" width="22.3" height="32.6" fill="#9be4d4"/>
<rect x="710.3" y="769.8" width="22.3" height="32.6" fill="#8cd2c6"/>
<rect x="739.7" y="769.8" width="22.3" height="32.6" fill="#7dbfb7"/>
<rect x="769.0" y="769.8" width="22.3" height="32.6" fill="#6daca9"/>
<rect x="798.4" y="769.8" width="22.3" height="32.6" fill="#5e9a9b"/>
<rect x="827.7" y="769.8" width="22.3" height="32.6" fill="#4f888c"/>
<rect x="857.0" y="769.8" width="22.3" height="32.6" fill="#40757e"/>
<rect x="886.4" y="769.8" width="22.3" height="32.6" fill="#316270"/>
<rect x="915.7" y="769.8" width="22.3" height="32.6" fill="#215062"/>
<rect x="945.1" y="769.8" width="22.3" height="32.6" fill="#123e53"/>
<rect x="974.4" y="769.8" width="22.3" height="32.6" fill="#032b45"/>
<text x="681" y="821.5" font-size="14" fill="#666" font-weight="700" textLength="39.6" lengthAdjust="spacing">Lower</text>
<text x="952.3" y="821.5" font-size="14" fill="#666" font-weight="700" textLength="43.9" lengthAdjust="spacing">Higher</text>
</g>
<g id="text">
<text x="28" y="46.4" font-size="29" font-weight="700" fill="#3d3d3d" textLength="524.5" lengthAdjust="spacing">How High Are Gas Taxes in Your State?</text>
<text x="28" y="80.5" font-size="21" font-style="italic" fill="#6b6b6b" textLength="687.8" lengthAdjust="spacing">Total State Taxes and Fees on Gasoline, as of January 2017 (cents per gallon)</text>
<g font-size="14" fill="#484848">
<text x="25.9" y="754.9" textLength="565.6" lengthAdjust="spacing">Notes: These rates do not include the 18.40 cent/gallon federal excise tax on gas. The</text>
<text x="25.9" y="771.9" textLength="562.7" lengthAdjust="spacing">American Petroleum Institute (API) has developed a methodology for determining the</text>
<text x="25.9" y="788.9" textLength="540.1" lengthAdjust="spacing">average tax rate on a gallon of fuel. Rates may include any of the following: excise</text>
<text x="25.9" y="805.9" textLength="548.9" lengthAdjust="spacing">taxes, environmental fees, storage tank taxes, other fees or taxes, and general sales</text>
<text x="25.9" y="822.9" textLength="554.8" lengthAdjust="spacing">tax. In states where gasoline is subject to the general sales tax, or where the fuel tax</text>
<text x="25.9" y="839.9" textLength="556.3" lengthAdjust="spacing">is based on the average sale price, the average rate determined by API is sensitive to</text>
<text x="25.9" y="856.9" textLength="561.2" lengthAdjust="spacing">changes in the price of gasoline. States that fully or partially apply general sales taxes</text>
<text x="25.9" y="873.9" textLength="551.0" lengthAdjust="spacing">to gasoline are California, Connecticut, Georgia, Illinois, Indiana, Michigan, and New</text>
<text x="25.9" y="890.9" textLength="558.3" lengthAdjust="spacing">York. D.C.&#39;s rank does not affect states&#39; ranks, but the figure in parentheses indicates</text>
<text x="25.9" y="907.9" textLength="207.4" lengthAdjust="spacing">where it would rank if included.</text>
<text x="25.9" y="927.8" textLength="237.3" lengthAdjust="spacing">Source: American Petroleum Institute.</text>
</g>
<rect x="0" y="945.2" width="1024" height="35" fill="#0094ff"/>
<text x="25.4" y="969.4" font-size="19.5" fill="#fff" textLength="162.5" lengthAdjust="spacing">TAX FOUNDATION</text>
<text x="865.1" y="969.4" font-size="17.2" font-weight="700" fill="#fff" textLength="132" lengthAdjust="spacing">@TaxFoundation</text>
</g>
</svg>
</body></html>
